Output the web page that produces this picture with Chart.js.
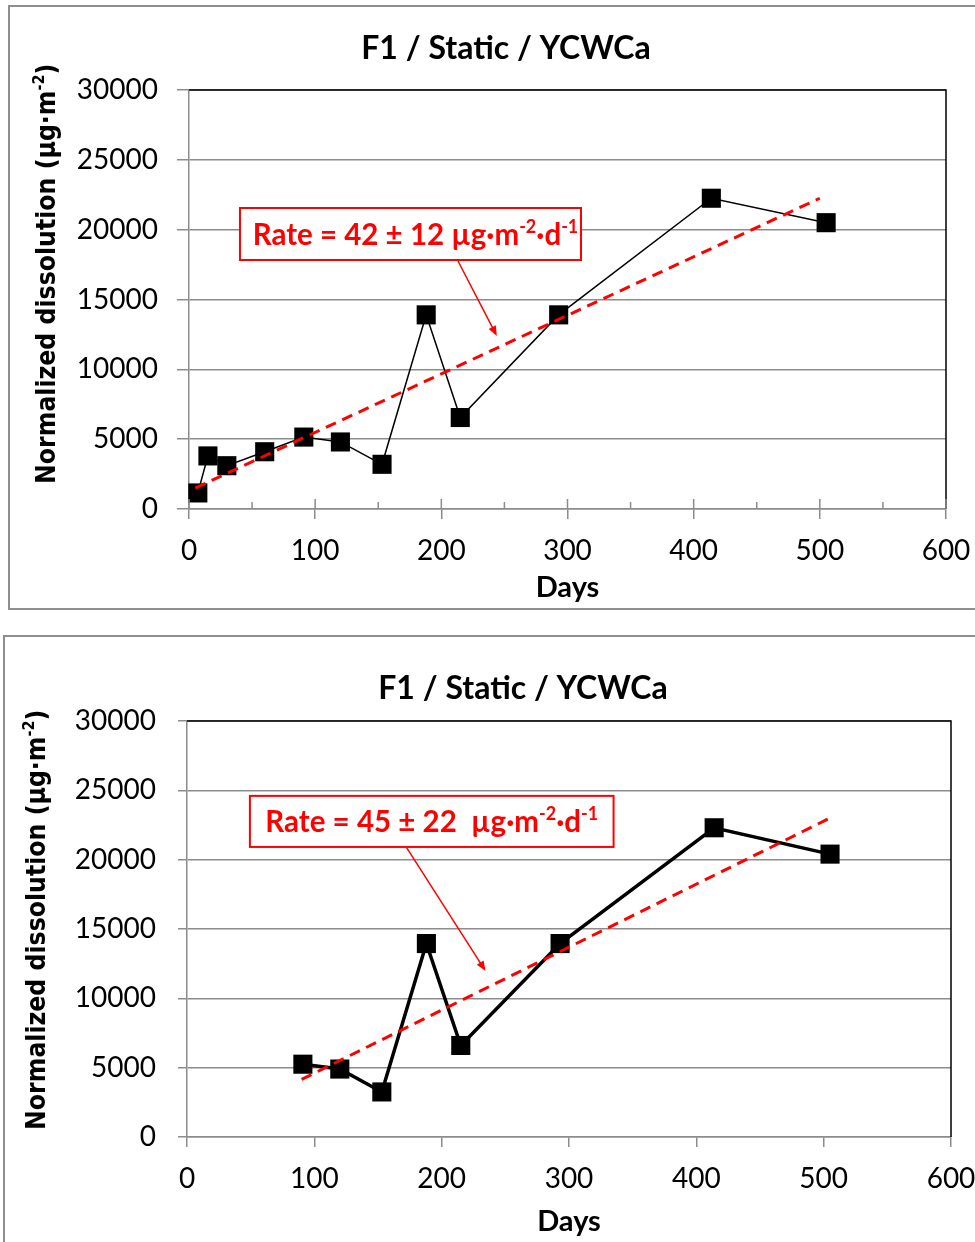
<!DOCTYPE html>
<html>
<head>
<meta charset="utf-8">
<script src="https://cdn.jsdelivr.net/npm/chart.js@4.4.1/dist/chart.umd.min.js"></script>
<style>
  html, body { margin: 0; padding: 0; background: #fff; overflow: hidden; width: 975px; height: 1242px; }
  .box { position: absolute; border: 2px solid #8e8e8e; box-sizing: border-box; }
  #box1 { left: 8px; top: 5px; width: 1000px; height: 605px; }
  #box2 { left: 3px; top: 635px; width: 1000px; height: 700px; }
  canvas { position: absolute; left: 0; }
  #c1 { top: 0; }
  #c2 { top: 620px; }
</style>
</head>
<body>
<div class="box" id="box1"></div>
<div class="box" id="box2"></div>
<canvas id="c1" width="1000" height="620"></canvas>
<canvas id="c2" width="1000" height="622"></canvas>
<script>
const xTicks = [0, 100, 200, 300, 400, 500, 600];
const xMinorTicks = [50, 150, 250, 350, 450, 550];
const yTicks = [0, 5000, 10000, 15000, 20000, 25000, 30000];

const daysAll = [7, 15, 30, 60, 91, 120, 153, 188, 215, 293, 414, 505];
const dissolutionAll = [1150, 3800, 3100, 4100, 5150, 4800, 3200, 13900, 6550, 13900, 22250, 20500];
const fitDaysAll = [5, 500];
const fitValuesAll = [1500, 22250];

const daysLate = [91, 120, 153, 188, 215, 293, 414, 505];
const dissolutionLate = [5250, 4900, 3250, 13950, 6600, 13950, 22300, 20400];
const fitDaysLate = [90, 506];
const fitValuesLate = [4150, 23050];

const chartTitle = 'F1 / Static / YCWCa';
const xTitle = 'Days';
const yTitle = ['Normalized dissolution (µg·m', '-2', ')'];
const rateAll = ['Rate = 42 ± 12 µg·m', '-2', '·d', '-1'];
const rateLate = ['Rate = 45 ± 22  µg·m', '-2', '·d', '-1'];

const GRAY = '#8c8c8c';
const SANS = 'Lato, "Liberation Sans", sans-serif';
const WIDE = '"DejaVu Sans Condensed", "DejaVu Sans", sans-serif';

// even parts normal, odd parts superscript
const drawRich = (ctx, parts, x, y, size, family, measureOnly) => {
  let w = 0;
  parts.forEach((p, i) => {
    const sup = i % 2 === 1;
    ctx.font = `bold ${sup ? Math.round(size * 0.62) : size}px ${family}`;
    if (!measureOnly) ctx.fillText(p, x + w, sup ? y - size * 0.4 : y);
    w += ctx.measureText(p).width;
  });
  return w;
};

function build(cfg) {
  const overlay = {
    id: 'overlay',
    afterDraw(chart) {
      const { ctx, chartArea: a, scales: { x, y } } = chart;
      ctx.save();
      // plot frame top/right in black
      ctx.strokeStyle = '#000';
      ctx.lineWidth = 1.5;
      ctx.beginPath();
      ctx.moveTo(a.left, a.top);
      ctx.lineTo(a.right, a.top);
      ctx.lineTo(a.right, a.bottom);
      ctx.stroke();
      if (cfg.innerTicks) {
        ctx.strokeStyle = GRAY;
        ctx.beginPath();
        xTicks.forEach(v => { const px = x.getPixelForValue(v); ctx.moveTo(px, a.bottom); ctx.lineTo(px, a.bottom - 10); });
        xMinorTicks.forEach(v => { const px = x.getPixelForValue(v); ctx.moveTo(px, a.bottom); ctx.lineTo(px, a.bottom - 7); });
        ctx.stroke();
      }
      // chart title
      ctx.fillStyle = '#000';
      ctx.textBaseline = 'alphabetic';
      ctx.textAlign = 'center';
      ctx.font = `bold 32px ${SANS}`;
      ctx.fillText(chartTitle, cfg.titleX, cfg.titleY);
      // y axis title
      ctx.textAlign = 'left';
      ctx.translate(cfg.yTitleX, cfg.yTitleStart);
      ctx.rotate(-Math.PI / 2);
      drawRich(ctx, yTitle, 0, 0, cfg.yTitleSize, WIDE);
      ctx.restore();

      // rate label and arrow
      ctx.save();
      const b = cfg.label;
      const bx1 = x.getPixelForValue(b.x1), bx2 = x.getPixelForValue(b.x2);
      const by1 = y.getPixelForValue(b.y1), by2 = y.getPixelForValue(b.y2);
      ctx.fillStyle = '#fff';
      ctx.fillRect(bx1, by1, bx2 - bx1, by2 - by1);
      ctx.strokeStyle = '#ff0000';
      ctx.lineWidth = 2;
      ctx.strokeRect(bx1, by1, bx2 - bx1, by2 - by1);
      ctx.fillStyle = '#ff0000';
      ctx.textBaseline = 'alphabetic';
      ctx.textAlign = 'left';
      const tw = drawRich(ctx, cfg.rate, 0, 0, 29.5, SANS, true);
      drawRich(ctx, cfg.rate, (bx1 + bx2) / 2 - tw / 2 + cfg.textShift, (by1 + by2) / 2 + 10.5, 29.5, SANS);

      const [ax1, ay1, ax2, ay2] = cfg.arrow;
      const sx = x.getPixelForValue(ax1), sy = y.getPixelForValue(ay1);
      const ex = x.getPixelForValue(ax2), ey = y.getPixelForValue(ay2);
      const ang = Math.atan2(ey - sy, ex - sx);
      ctx.lineWidth = 1.5;
      ctx.beginPath();
      ctx.moveTo(sx, sy);
      ctx.lineTo(ex - 8 * Math.cos(ang), ey - 8 * Math.sin(ang));
      ctx.stroke();
      ctx.beginPath();
      ctx.moveTo(ex, ey);
      ctx.lineTo(ex - 10 * Math.cos(ang) + 4 * Math.sin(ang), ey - 10 * Math.sin(ang) - 4 * Math.cos(ang));
      ctx.lineTo(ex - 10 * Math.cos(ang) - 4 * Math.sin(ang), ey - 10 * Math.sin(ang) + 4 * Math.cos(ang));
      ctx.closePath();
      ctx.fill();
      ctx.restore();
    }
  };

  return new Chart(document.getElementById(cfg.canvas), {
    type: 'scatter',
    data: {
      datasets: [
        {
          data: cfg.fitX.map((d, i) => ({ x: d, y: cfg.fitY[i] })),
          showLine: true,
          borderColor: '#ff0000',
          borderWidth: 3,
          borderDash: [11, 7],
          pointRadius: 0,
          order: 0,
          clip: false
        },
        {
          data: cfg.days.map((d, i) => ({ x: d, y: cfg.values[i] })),
          showLine: true,
          borderColor: '#000',
          borderWidth: cfg.lineWidth,
          pointStyle: 'rect',
          pointRadius: 13.5,
          pointBackgroundColor: '#000',
          pointBorderWidth: 0,
          order: 1,
          clip: false
        }
      ]
    },
    options: {
      responsive: false,
      animation: false,
      events: [],
      layout: { padding: { left: 0, right: cfg.width - cfg.area.right, top: cfg.area.top, bottom: 0 } },
      plugins: {
        legend: { display: false },
        tooltip: { enabled: false },
        title: { display: false }
      },
      scales: {
        x: {
          type: 'linear',
          min: 0,
          max: 600,
          afterBuildTicks: s => { s.ticks = xTicks.map(value => ({ value })); },
          afterFit: s => { s.height = cfg.height - cfg.area.bottom; },
          ticks: { color: '#000', font: { family: SANS, size: 28 }, padding: 15.5, maxRotation: 0, autoSkip: false },
          grid: { drawOnChartArea: false, color: GRAY, lineWidth: 1.5, tickLength: 10 },
          border: { color: GRAY, width: 1.5 },
          title: {
            display: true,
            text: xTitle,
            color: '#000',
            font: { family: SANS, size: 29, weight: 'bold' },
            padding: { top: 0, bottom: cfg.xTitlePad }
          }
        },
        y: {
          min: 0,
          max: 30000,
          afterBuildTicks: s => { s.ticks = yTicks.map(value => ({ value })); },
          afterFit: s => { s.width = cfg.area.left; },
          ticks: { color: '#000', font: { family: SANS, size: 28 }, padding: cfg.yPad, callback: v => String(v) },
          grid: { color: GRAY, lineWidth: 1.5, tickLength: cfg.yTick },
          border: { color: GRAY, width: 1.5 }
        }
      }
    },
    plugins: [overlay]
  });
}

build({
  canvas: 'c1', width: 1000, height: 620,
  area: { left: 189, right: 946, top: 90, bottom: 509 },
  days: daysAll, values: dissolutionAll, fitX: fitDaysAll, fitY: fitValuesAll,
  lineWidth: 1.5, innerTicks: true,
  titleX: 506, titleY: 59,
  xTitlePad: 15, yPad: 19, yTick: 12,
  yTitleX: 55, yTitleStart: 484, yTitleSize: 26.3,
  rate: rateAll, textShift: 5,
  label: { x1: 40.4, x2: 310.7, y1: 21551, y2: 17828 },
  arrow: [213.2, 17757, 244, 12387]
});

build({
  canvas: 'c2', width: 1000, height: 622,
  area: { left: 187, right: 951, top: 101, bottom: 517 },
  days: daysLate, values: dissolutionLate, fitX: fitDaysLate, fitY: fitValuesLate,
  lineWidth: 3.5, innerTicks: false,
  titleX: 523, titleY: 79,
  xTitlePad: 3, yPad: 22, yTick: 9,
  yTitleX: 45, yTitleStart: 510, yTitleSize: 26.3,
  rate: rateLate, textShift: 0,
  label: { x1: 49.4, x2: 335, y1: 24600, y2: 20917 },
  arrow: [172.6, 20845, 234.5, 11964]
});
</script>
</body>
</html>
